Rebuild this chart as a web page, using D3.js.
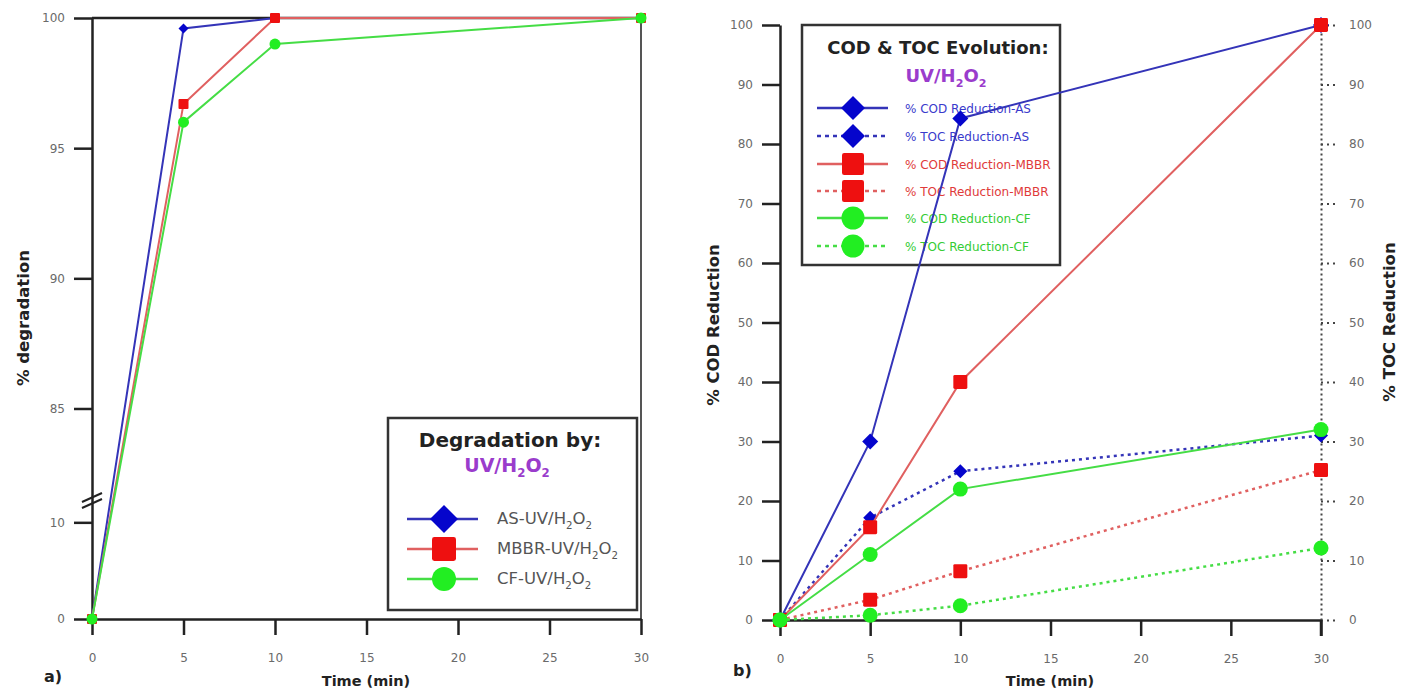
<!DOCTYPE html>
<html><head><meta charset="utf-8">
<script src="https://cdn.jsdelivr.net/npm/d3@7"></script>
<style>body{margin:0;background:#fff;} text{font-family:"DejaVu Sans",Verdana,sans-serif;}</style>
</head><body><svg id="c" width="1409" height="690"></svg>
<script>
// ---------- data ----------
const times = [0, 5, 10, 30];
const xTicks = [0, 5, 10, 15, 20, 25, 30];
// panel a) % degradation
const degAS = [0, 99.6, 100, 100];
const degMBBR = [0, 96.7, 100, 100];
const degCF = [0, 96.0, 99.0, 100];
const degYTicks = [0, 10, 85, 90, 95, 100];
const degLegend = ["AS-UV/H_2O_2", "MBBR-UV/H_2O_2", "CF-UV/H_2O_2"];
// panel b) COD & TOC reduction
const codAS = [0, 30, 84.3, 100];
const tocAS = [0, 17.2, 25, 31];
const codMBBR = [0, 15.6, 40, 100];
const tocMBBR = [0, 3.4, 8.2, 25.2];
const codCF = [0, 11, 22, 32];
const tocCF = [0, 0.8, 2.4, 12.1];
const redTicks = [0, 10, 20, 30, 40, 50, 60, 70, 80, 90, 100];
const redLegend = ["% COD Reduction-AS", "% TOC Reduction-AS", "% COD Reduction-MBBR",
                   "% TOC Reduction-MBBR", "% COD Reduction-CF", "% TOC Reduction-CF"];

// ---------- styles ----------
const FONT = "DejaVu Sans, Verdana, sans-serif";
const C = {
  blue: {line: "#3434b8", mark: "#0505cc", text: "#3a3acc"},
  red: {line: "#e06060", mark: "#ee1010", text: "#e03a3a"},
  green: {line: "#45dd45", mark: "#22ee22", text: "#35cc35"}
};
const PURPLE = "#9a3ccc";
const svg = d3.select("#c");

function rich(sel, str, size) {
  const parts = str.split(/_(\d)/);
  let shifted = false;
  parts.forEach((p, i) => {
    if (p === "") return;
    const sub = i % 2 === 1;
    const t = sel.append("tspan").text(p);
    if (sub) { t.attr("font-size", size * 0.62).attr("dy", size * 0.28); shifted = true; }
    else if (shifted) { t.attr("dy", -size * 0.28); shifted = false; }
  });
}
function marker(g, shape, x, y, s, color) {
  if (shape === "diamond") {
    g.append("path").attr("d", `M${x},${y - s}L${x + s},${y}L${x},${y + s}L${x - s},${y}Z`).attr("fill", color);
  } else if (shape === "square") {
    g.append("rect").attr("x", x - s).attr("y", y - s).attr("width", 2 * s).attr("height", 2 * s)
      .attr("rx", s * 0.2).attr("fill", color);
  } else {
    g.append("circle").attr("cx", x).attr("cy", y).attr("r", s).attr("fill", color);
  }
}
function styleAxis(g, w, col) {
  g.select(".domain").attr("stroke", col || "#222").attr("stroke-width", w);
  g.selectAll(".tick line").attr("stroke", col || "#222").attr("stroke-width", w);
  g.selectAll(".tick text").attr("fill", "#6a6a6a").attr("font-size", 12).attr("font-family", FONT);
}

// =============== panel a ===============
const xA = d3.scaleLinear().domain([0, 30]).range([92, 641]);
const yA = d3.scaleLinear().domain([0, 12, 81.6, 100]).range([619, 503, 497, 18]);

// frame top & right
svg.append("line").attr("x1", 92).attr("x2", 641).attr("y1", 18).attr("y2", 18).attr("stroke", "#222").attr("stroke-width", 2.5);
svg.append("line").attr("x1", 641).attr("x2", 641).attr("y1", 18).attr("y2", 619).attr("stroke", "#555").attr("stroke-width", 2);

const axAy = svg.append("g").attr("transform", "translate(92,0)")
  .call(d3.axisLeft(yA).tickValues(degYTicks).tickSize(18).tickSizeOuter(0).tickPadding(9));
styleAxis(axAy, 2.5);
const axAx = svg.append("g").attr("transform", "translate(0,619)")
  .call(d3.axisBottom(xA).tickValues(xTicks).tickSize(16).tickSizeOuter(0).tickPadding(18));
styleAxis(axAx, 2.5);
// axis break marks
svg.append("line").attr("x1", 82).attr("y1", 502).attr("x2", 102).attr("y2", 493).attr("stroke", "#222").attr("stroke-width", 2);
svg.append("line").attr("x1", 82).attr("y1", 508).attr("x2", 102).attr("y2", 499).attr("stroke", "#222").attr("stroke-width", 2);

svg.append("text").attr("transform", "translate(29,318) rotate(-90)").attr("text-anchor", "middle")
  .attr("font-weight", "bold").attr("font-size", 16.5).attr("fill", "#222").text("% degradation");
svg.append("text").attr("x", 366).attr("y", 686).attr("text-anchor", "middle")
  .attr("font-weight", "bold").attr("font-size", 14.5).attr("fill", "#222").text("Time (min)");
svg.append("text").attr("x", 44).attr("y", 682).attr("font-weight", "bold").attr("font-size", 16).attr("fill", "#222").text("a)");

const seriesA = [
  {v: degAS, c: C.blue, shape: "diamond", s: 5},
  {v: degMBBR, c: C.red, shape: "square", s: 5},
  {v: degCF, c: C.green, shape: "circle", s: 5.5}
];
const lineA = d3.line().x((d, i) => xA(times[i])).y(d => yA(d));
seriesA.forEach(s => {
  svg.append("path").datum(s.v).attr("d", lineA).attr("fill", "none").attr("stroke", s.c.line).attr("stroke-width", 2);
});
seriesA.forEach(s => {
  const g = svg.append("g");
  s.v.forEach((d, i) => marker(g, s.shape, xA(times[i]), yA(d), s.s, s.c.mark));
});

// legend a
const lgA = svg.append("g");
lgA.append("rect").attr("x", 388).attr("y", 418).attr("width", 249).attr("height", 192)
  .attr("fill", "#fff").attr("stroke", "#333").attr("stroke-width", 2.5);
lgA.append("text").attr("x", 510).attr("y", 447).attr("text-anchor", "middle").attr("font-weight", "bold")
  .attr("font-size", 20).attr("fill", "#222").text("Degradation by:");
const ta = lgA.append("text").attr("x", 507).attr("y", 472).attr("text-anchor", "middle").attr("font-weight", "bold")
  .attr("font-size", 19).attr("fill", PURPLE);
rich(ta, "UV/H_2O_2", 19);
const lgAy = [519, 549, 579];
seriesA.forEach((s, i) => {
  const y = lgAy[i];
  lgA.append("line").attr("x1", 407).attr("x2", 478).attr("y1", y).attr("y2", y).attr("stroke", s.c.line).attr("stroke-width", 2.5);
  marker(lgA, s.shape, 444, y, s.shape === "diamond" ? 14 : (s.shape === "square" ? 12 : 12), s.c.mark);
  const t = lgA.append("text").attr("x", 497).attr("y", y + 5).attr("font-size", 16.5).attr("fill", "#555");
  rich(t, degLegend[i], 16.5);
});

// =============== panel b ===============
const xB = d3.scaleLinear().domain([0, 30]).range([780, 1321]);
const yB = d3.scaleLinear().domain([0, 100]).range([620, 25]);

// legend b (drawn below the series lines)
const lgB = svg.append("g");
lgB.append("rect").attr("x", 802).attr("y", 25).attr("width", 258).attr("height", 240)
  .attr("fill", "#fff").attr("stroke", "#333").attr("stroke-width", 2.5);
lgB.append("text").attr("x", 938).attr("y", 54).attr("text-anchor", "middle").attr("font-weight", "bold")
  .attr("font-size", 18).attr("fill", "#222").text("COD & TOC Evolution:");
const tb = lgB.append("text").attr("x", 946).attr("y", 82).attr("text-anchor", "middle").attr("font-weight", "bold")
  .attr("font-size", 18).attr("fill", PURPLE);
rich(tb, "UV/H_2O_2", 18);

const seriesB = [
  {v: codAS, c: C.blue, shape: "diamond", s: 8, dash: null},
  {v: tocAS, c: C.blue, shape: "diamond", s: 7, dash: "3,4"},
  {v: codMBBR, c: C.red, shape: "square", s: 7, dash: null},
  {v: tocMBBR, c: C.red, shape: "square", s: 7, dash: "3,4"},
  {v: codCF, c: C.green, shape: "circle", s: 7.5, dash: null},
  {v: tocCF, c: C.green, shape: "circle", s: 7.5, dash: "3,4"}
];
const lgBy = [108, 136, 164, 191, 218, 246];
seriesB.forEach((s, i) => {
  const y = lgBy[i];
  lgB.append("line").attr("x1", 817).attr("x2", 888).attr("y1", y).attr("y2", y).attr("stroke", s.c.line)
    .attr("stroke-width", 2.5).attr("stroke-dasharray", s.dash ? "4,4" : null);
  marker(lgB, s.shape, 853, y, s.shape === "diamond" ? 12 : (s.shape === "square" ? 11 : 11.5), s.c.mark);
  lgB.append("text").attr("x", 905).attr("y", y + 4.5).attr("font-size", 12).attr("fill", s.c.text).text(redLegend[i]);
});

// axes b
const axBy = svg.append("g").attr("transform", "translate(780,0)")
  .call(d3.axisLeft(yB).tickValues(redTicks).tickSize(18).tickSizeOuter(0).tickPadding(9));
styleAxis(axBy, 2.5);
const axBx = svg.append("g").attr("transform", "translate(0,620)")
  .call(d3.axisBottom(xB).tickValues(xTicks).tickSize(16).tickSizeOuter(0).tickPadding(18));
styleAxis(axBx, 2.5);
// right dotted axis
const axBr = svg.append("g").attr("transform", "translate(1321,0)")
  .call(d3.axisRight(yB).tickValues(redTicks).tickSize(14).tickSizeOuter(0).tickPadding(14));
styleAxis(axBr, 2, "#444");
axBr.select(".domain").attr("stroke-dasharray", "2,3");
axBr.selectAll(".tick line").attr("stroke-dasharray", "2,4");
svg.append("line").attr("x1", 1321).attr("x2", 1321).attr("y1", 620).attr("y2", 636).attr("stroke", "#222").attr("stroke-width", 2.5);

svg.append("text").attr("transform", "translate(719,325) rotate(-90)").attr("text-anchor", "middle")
  .attr("font-weight", "bold").attr("font-size", 16.5).attr("fill", "#222").text("% COD Reduction");
svg.append("text").attr("transform", "translate(1395,322) rotate(-90)").attr("text-anchor", "middle")
  .attr("font-weight", "bold").attr("font-size", 16.5).attr("fill", "#222").text("% TOC Reduction");
svg.append("text").attr("x", 1050).attr("y", 686).attr("text-anchor", "middle")
  .attr("font-weight", "bold").attr("font-size", 14.5).attr("fill", "#222").text("Time (min)");
svg.append("text").attr("x", 733).attr("y", 676).attr("font-weight", "bold").attr("font-size", 16).attr("fill", "#222").text("b)");

const lineB = d3.line().x((d, i) => xB(times[i])).y(d => yB(d));
seriesB.forEach(s => {
  svg.append("path").datum(s.v).attr("d", lineB).attr("fill", "none").attr("stroke", s.c.line)
    .attr("stroke-width", s.dash ? 2.5 : 2).attr("stroke-dasharray", s.dash);
  const g = svg.append("g");
  s.v.forEach((d, i) => marker(g, s.shape, xB(times[i]), yB(d), s.s, s.c.mark));
});
</script></body></html>
